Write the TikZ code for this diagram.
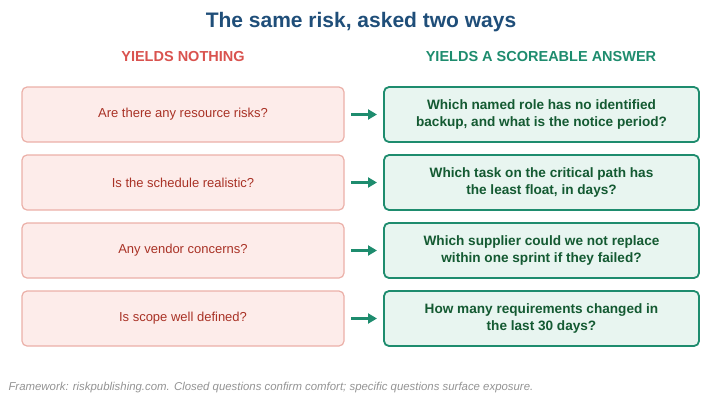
\documentclass[tikz,border=0pt]{standalone}
\usepackage{fontspec}
\setmainfont{Liberation Sans}
\usetikzlibrary{arrows.meta}
\definecolor{titleblue}{HTML}{1F4E79}
\definecolor{badred}{HTML}{D9534F}
\definecolor{badfill}{HTML}{FDECEA}
\definecolor{baddraw}{HTML}{EBB0A8}
\definecolor{badtext}{HTML}{A93226}
\definecolor{goodgreen}{HTML}{1E8C6E}
\definecolor{goodfill}{HTML}{E8F5F0}
\definecolor{goodtext}{HTML}{145A32}
\tikzset{
    bad-box/.style={
        draw=baddraw, fill=badfill, line width=1.2pt, rounded corners=5pt,
        minimum width=322pt, minimum height=55pt, text=badtext, font=\fontsize{13}{15}\selectfont
    },
    good-box/.style={
        draw=goodgreen, fill=goodfill, line width=1.8pt, rounded corners=5pt,
        minimum width=315pt, minimum height=55pt, text=goodtext, align=center,
        font=\bfseries\fontsize{13.6}{17}\selectfont
    },
    my-arrow/.style={
        -{Triangle[length=9pt,width=10pt]}, goodgreen, line width=2.2pt
    },
}
\begin{document}
\begin{tikzpicture}[x=1pt, y=-1pt]
    \useasboundingbox (0,0) rectangle (722,400);

    % TITLE AND HEADERS
    \node[text=titleblue, font=\bfseries\fontsize{21}{24}\selectfont] (TITLE) at (361, 22) {The same risk, asked two ways};
    \node[text=badred, font=\bfseries\fontsize{14.5}{17}\selectfont]    (HBAD)  at (183, 57) {YIELDS NOTHING};
    \node[text=goodgreen, font=\bfseries\fontsize{14.5}{17}\selectfont] (HGOOD) at (541, 57) {YIELDS A SCOREABLE ANSWER};

    % ROWS
    \foreach \i/\y/\q/\a in {
        1/114.5/{Are there any resource risks?}/{Which named role has no identified\\backup, and what is the notice period?},
        2/182.5/{Is the schedule realistic?}/{Which task on the critical path has\\the least float, in days?},
        3/250.5/{Any vendor concerns?}/{Which supplier could we not replace\\within one sprint if they failed?},
        4/318.5/{Is scope well defined?}/{How many requirements changed in\\the last 30 days?}} {
        \node[bad-box]  (BAD\i)  at (183, \y)   {\q};
        \node[good-box] (GOOD\i) at (541.5, \y) {\a};
        \coordinate (ARIN\i)  at (351, \y);
        \coordinate (AROUT\i) at (377, \y);
        \draw[my-arrow] (ARIN\i) -- (AROUT\i);
    }

    % FOOTER
    \node[anchor=west, text=gray!85, font=\itshape\fontsize{11.4}{13}\selectfont] (FOOT) at (5, 388)
        {Framework: riskpublishing.com. Closed questions confirm comfort; specific questions surface exposure.};
\end{tikzpicture}
\end{document}
